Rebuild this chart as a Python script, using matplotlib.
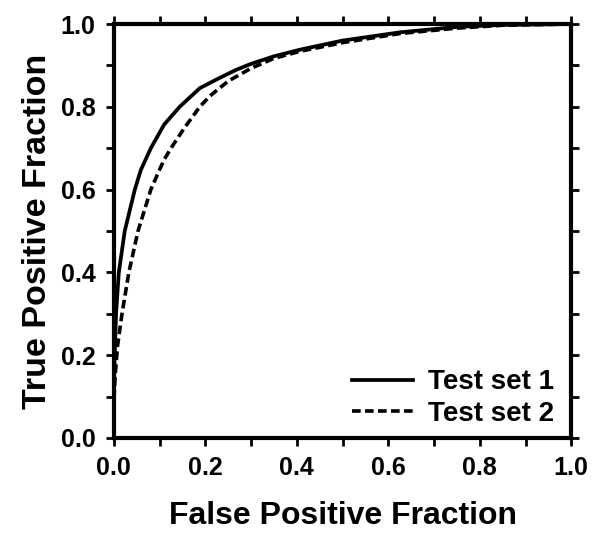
import matplotlib.pyplot as plt
from matplotlib.ticker import MultipleLocator

plt.rcParams['font.family'] = ['Liberation Sans', 'DejaVu Sans']
plt.rcParams['font.weight'] = 'bold'

# ROC curve values
fpr1 = [0.0, 0.0, 0.002, 0.005, 0.011, 0.024, 0.046, 0.059, 0.081, 0.11, 0.144, 0.188,
        0.228, 0.267, 0.298, 0.35, 0.407, 0.5, 0.626, 0.75, 0.85, 1.0]
tpr1 = [0.0, 0.1, 0.2, 0.3, 0.4, 0.5, 0.6, 0.647, 0.7, 0.757, 0.8, 0.845,
        0.868, 0.889, 0.903, 0.922, 0.938, 0.96, 0.98, 0.993, 0.998, 1.0]

fpr2 = [0.0, 0.0, 0.003, 0.008, 0.018, 0.033, 0.053, 0.081, 0.10, 0.11, 0.125, 0.155,
        0.188, 0.21, 0.25, 0.3, 0.35, 0.407, 0.5, 0.626, 0.75, 0.85, 1.0]
tpr2 = [0.0, 0.08, 0.15, 0.22, 0.3, 0.4, 0.5, 0.6, 0.648, 0.672, 0.7, 0.75,
        0.8, 0.826, 0.862, 0.893, 0.917, 0.934, 0.955, 0.977, 0.99, 0.997, 1.0]

fig = plt.figure(figsize=(6.02, 5.46), dpi=100)
ax = fig.add_axes([0.189, 0.198, 0.760, 0.758])

ax.plot(fpr1, tpr1, color='black', lw=2.7, ls='-', label='Test set 1')
ax.plot(fpr2, tpr2, color='black', lw=2.6, ls=(0, (2.4, 1.2)), label='Test set 2')

ax.set_xlim(0, 1)
ax.set_ylim(0, 1)
ax.xaxis.set_major_locator(MultipleLocator(0.2))
ax.yaxis.set_major_locator(MultipleLocator(0.2))
ax.xaxis.set_minor_locator(MultipleLocator(0.1))
ax.yaxis.set_minor_locator(MultipleLocator(0.1))
ax.tick_params(which='both', direction='out', length=6, width=2,
               top=True, right=True, labelsize=18, pad=7)
for s in ax.spines.values():
    s.set_linewidth(3)

ax.set_xlabel('False Positive Fraction', fontsize=23, fontweight='bold', labelpad=15)
ax.set_ylabel('True Positive Fraction', fontsize=24.5, fontweight='bold', labelpad=6)

ax.legend(loc='lower right', bbox_to_anchor=(0.987, 0.0), frameon=False,
          prop={'size': 20, 'weight': 'bold'}, handlelength=2.2,
          handletextpad=0.55, borderaxespad=0.0, labelspacing=0.2)

plt.savefig('out.png')
